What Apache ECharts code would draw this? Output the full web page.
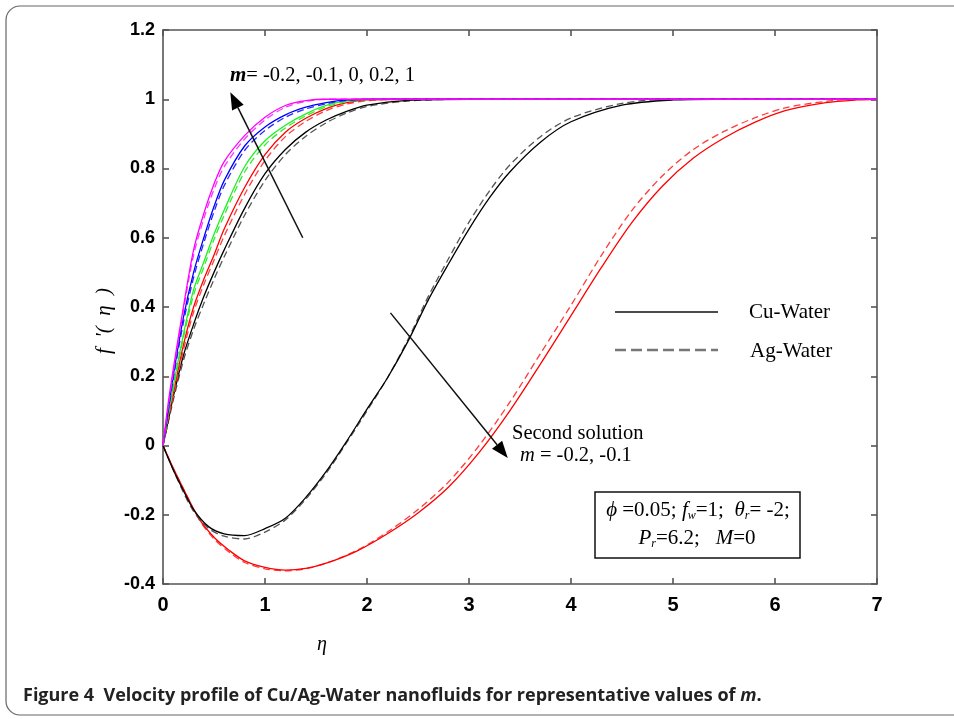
<!DOCTYPE html>
<html>
<head>
<meta charset="utf-8">
<script src="https://cdn.jsdelivr.net/npm/echarts@6/dist/echarts.min.js"></script>
<style>
html,body{margin:0;padding:0;background:#fff;}
#chart{width:954px;height:719px;}
</style>
</head>
<body>
<div id="chart"></div>
<script>
// ---------- data ----------
const xTicks = [0, 1, 2, 3, 4, 5, 6, 7];
const yTicks = [-0.4, -0.2, 0, 0.2, 0.4, 0.6, 0.8, 1, 1.2];

// first solutions (m = -0.2, -0.1, 0, 0.2, 1)
const etaFirst = [0, 0.05, 0.1, 0.2, 0.3, 0.4, 0.5, 0.6, 0.8, 1.0, 1.2, 1.4, 1.6, 1.8, 2.0, 2.4, 3.0, 7];
const m1Cu   = [0, 0.12, 0.22, 0.40, 0.565, 0.67, 0.755, 0.82, 0.895, 0.948, 0.982, 0.996, 1, 1, 1, 1, 1, 1];
const m1Ag   = [0, 0.11, 0.21, 0.39, 0.55, 0.655, 0.74, 0.805, 0.885, 0.94, 0.977, 0.994, 1, 1, 1, 1, 1, 1];
const m02Cu  = [0, 0.10, 0.20, 0.37, 0.50, 0.60, 0.69, 0.765, 0.865, 0.92, 0.955, 0.977, 0.99, 0.998, 1, 1, 1, 1];
const m02Ag  = [0, 0.095, 0.19, 0.355, 0.485, 0.585, 0.675, 0.75, 0.852, 0.91, 0.948, 0.972, 0.987, 0.997, 1, 1, 1, 1];
const m0Cu   = [0, 0.09, 0.17, 0.32, 0.45, 0.53, 0.61, 0.68, 0.805, 0.88, 0.925, 0.958, 0.982, 0.995, 1, 1, 1, 1];
const m0Ag   = [0, 0.085, 0.16, 0.31, 0.435, 0.515, 0.595, 0.665, 0.79, 0.868, 0.917, 0.952, 0.978, 0.993, 0.999, 1, 1, 1];
const mn01Cu = [0, 0.08, 0.15, 0.29, 0.40, 0.48, 0.55, 0.625, 0.745, 0.84, 0.905, 0.945, 0.973, 0.99, 0.998, 1, 1, 1];
const mn01Ag = [0, 0.075, 0.14, 0.275, 0.385, 0.465, 0.535, 0.605, 0.725, 0.823, 0.892, 0.936, 0.967, 0.986, 0.996, 1, 1, 1];
const mn02Cu = [0, 0.07, 0.14, 0.26, 0.35, 0.43, 0.50, 0.565, 0.685, 0.785, 0.855, 0.905, 0.94, 0.965, 0.983, 0.997, 1, 1];
const mn02Ag = [0, 0.065, 0.13, 0.245, 0.335, 0.41, 0.48, 0.545, 0.665, 0.765, 0.84, 0.893, 0.932, 0.96, 0.979, 0.995, 1, 1];

// second solutions (m = -0.2, -0.1)
const etaSecBlack = [0, 0.1, 0.2, 0.3, 0.45, 0.6, 0.8, 1.0, 1.2, 1.4, 1.6, 1.8, 2.0, 2.2, 2.4, 2.6, 2.8, 3.0, 3.2, 3.4, 3.7, 4.0, 4.5, 5.0, 5.4, 7];
const secBlackCu = [0, -0.07, -0.13, -0.185, -0.235, -0.255, -0.26, -0.24, -0.21, -0.15, -0.075, 0.012, 0.105, 0.195, 0.30, 0.42, 0.525, 0.625, 0.715, 0.79, 0.876, 0.935, 0.983, 0.998, 1, 1];
const secBlackAg = [0, -0.07, -0.135, -0.19, -0.24, -0.262, -0.27, -0.25, -0.215, -0.155, -0.08, 0.008, 0.10, 0.195, 0.305, 0.43, 0.54, 0.645, 0.735, 0.81, 0.892, 0.946, 0.988, 1, 1, 1];
const etaSecRed = [0, 0.1, 0.2, 0.35, 0.5, 0.65, 0.8, 1.0, 1.2, 1.4, 1.6, 1.9, 2.2, 2.5, 2.8, 3.1, 3.4, 3.7, 4.0, 4.3, 4.6, 4.9, 5.2, 5.5, 5.8, 6.1, 6.5, 6.8, 7];
const secRedCu = [0, -0.065, -0.125, -0.21, -0.265, -0.303, -0.333, -0.352, -0.36, -0.355, -0.34, -0.305, -0.255, -0.195, -0.12, -0.02, 0.10, 0.235, 0.375, 0.515, 0.645, 0.75, 0.83, 0.888, 0.933, 0.967, 0.99, 0.998, 1];
const secRedAg = [0, -0.065, -0.125, -0.212, -0.27, -0.308, -0.338, -0.356, -0.362, -0.356, -0.34, -0.303, -0.25, -0.185, -0.105, 0.0, 0.125, 0.265, 0.405, 0.55, 0.68, 0.78, 0.855, 0.907, 0.946, 0.975, 0.994, 1, 1];

// annotation arrows in data coordinates [tail, tip]
const arrowFirst  = [[1.37, 0.60], [0.66, 1.02]];
const arrowSecond = [[2.23, 0.383], [3.38, -0.036]];

// ---------- chart ----------
const chart = echarts.init(document.getElementById('chart'));
const zip = (xs, ys) => xs.map((x, i) => [x, ys[i]]);

function line(name, xs, ys, color, dashed, z) {
  return {
    name, type: 'line', data: zip(xs, ys), showSymbol: false, smooth: 0.3,
    xAxisIndex: 0, yAxisIndex: 0, z: z, silent: true,
    lineStyle: { color, width: 1.3, type: dashed ? [7, 4] : 'solid' }
  };
}

const axisLine = { show: true, onZero: false, lineStyle: { color: '#555', width: 1.6 } };
const tickInside = { show: true, inside: true, length: 6, lineStyle: { color: '#555', width: 1.6 } };
const gridCfg = { left: 163, right: 77, top: 30, bottom: 135 };

const option = {
  animation: false,
  backgroundColor: '#fff',
  grid: gridCfg,
  xAxis: [
    { type: 'value', min: 0, max: 7, interval: 1, position: 'bottom',
      axisLine, axisTick: tickInside, splitLine: { show: false },
      axisLabel: { margin: 11, color: '#000', fontFamily: 'Liberation Sans', fontWeight: 'bold', fontSize: 20,
        formatter: v => xTicks.includes(v) ? String(v) : '' } },
    { type: 'value', min: 0, max: 7, interval: 1, position: 'top',
      axisLine, axisTick: tickInside, splitLine: { show: false }, axisLabel: { show: false } }
  ],
  yAxis: [
    { type: 'value', min: -0.4, max: 1.2, interval: 0.2, position: 'left',
      axisLine, axisTick: tickInside, splitLine: { show: false },
      axisLabel: { margin: 8, color: '#000', fontFamily: 'Liberation Sans', fontWeight: 'bold', fontSize: 18,
        formatter: v => { const r = Math.round(v * 10) / 10; return yTicks.includes(r) ? String(r) : ''; } } },
    { type: 'value', min: -0.4, max: 1.2, interval: 0.2, position: 'right',
      axisLine, axisTick: tickInside, splitLine: { show: false }, axisLabel: { show: false } }
  ],
  series: [
    line('sec m=-0.1 Ag', etaSecRed, secRedAg, '#ff3b3b', true, 2),
    line('sec m=-0.1 Cu', etaSecRed, secRedCu, '#ff0000', false, 2),
    line('sec m=-0.2 Ag', etaSecBlack, secBlackAg, '#555555', true, 2),
    line('sec m=-0.2 Cu', etaSecBlack, secBlackCu, '#000000', false, 2),
    line('m=-0.2 Ag', etaFirst, mn02Ag, '#555555', true, 3),
    line('m=-0.2 Cu', etaFirst, mn02Cu, '#000000', false, 3),
    line('m=-0.1 Ag', etaFirst, mn01Ag, '#ff4040', true, 3),
    line('m=-0.1 Cu', etaFirst, mn01Cu, '#ff0000', false, 3),
    line('m=0 Ag', etaFirst, m0Ag, '#33ee33', true, 3),
    line('m=0 Cu', etaFirst, m0Cu, '#22ee22', false, 3),
    line('m=0.2 Ag', etaFirst, m02Ag, '#2a2aff', true, 3),
    line('m=0.2 Cu', etaFirst, m02Cu, '#0000ff', false, 3),
    line('m=1 Ag', etaFirst, m1Ag, '#ff33ff', true, 4),
    line('m=1 Cu', etaFirst, m1Cu, '#ff00ff', false, 4)
  ]
};
chart.setOption(option);

function arrow(pair) {
  const a = chart.convertToPixel({ gridIndex: 0 }, pair[0]);
  const b = chart.convertToPixel({ gridIndex: 0 }, pair[1]);
  const dx = b[0] - a[0], dy = b[1] - a[1];
  const L = Math.hypot(dx, dy), ux = dx / L, uy = dy / L;
  const hl = 17, hw = 6.5;
  const bx = b[0] - ux * hl, by = b[1] - uy * hl;
  return [
    { type: 'line', z: 10, shape: { x1: a[0], y1: a[1], x2: bx, y2: by }, style: { stroke: '#111', lineWidth: 1.5 } },
    { type: 'polygon', z: 10, shape: { points: [[b[0], b[1]], [bx - uy * hw, by + ux * hw], [bx + uy * hw, by - ux * hw]] }, style: { fill: '#000' } }
  ];
}

const serif = 'Liberation Serif';
const fs = 20.5;
const boxRich = {
  i: { fontStyle: 'italic', fontSize: 21, fontFamily: serif, fill: '#000', lineHeight: 24 },
  s: { fontStyle: 'italic', fontSize: 12, fontFamily: serif, fill: '#000', verticalAlign: 'bottom', lineHeight: 24 }
};
const graphics = [
  { type: 'rect', z: 0, shape: { x: 6, y: 6, width: 1000, height: 709, r: 14 }, style: { fill: 'none', stroke: '#666', lineWidth: 1.2 } },
  // caption
  { type: 'text', z: 10, x: 23, y: 696, style: { text: 'Figure 4  Velocity profile of Cu/Ag-Water nanofluids for representative values of {it|m}.',
      font: 'bold 18px "Open Sans"', fill: '#222', verticalAlign: 'middle',
      rich: { it: { fontStyle: 'italic', fontWeight: 'bold', fontSize: 18, fontFamily: 'Open Sans', fill: '#222' } } } },
  // axis names
  { type: 'text', z: 10, x: 322, y: 645, style: { text: 'η', font: 'italic 20px ' + serif, fill: '#000', align: 'center', verticalAlign: 'middle' } },
  { type: 'text', z: 10, x: 104, y: 321, rotation: Math.PI / 2, style: { text: "f  '(  η  )", font: 'italic 21px ' + serif, fill: '#000', align: 'center', verticalAlign: 'middle' } },
  // m annotation
  { type: 'text', z: 10, x: 230, y: 76, style: { text: '{b|m}= -0.2, -0.1, 0, 0.2, 1', font: fs + 'px ' + serif, fill: '#000', verticalAlign: 'middle',
      rich: { b: { fontStyle: 'italic', fontWeight: 'bold', fontSize: 21, fontFamily: serif, fill: '#000' } } } },
  { type: 'text', z: 10, x: 512, y: 434, style: { text: 'Second solution', font: fs + 'px ' + serif, fill: '#000', verticalAlign: 'middle' } },
  { type: 'text', z: 10, x: 520, y: 456, style: { text: '{i|m} = -0.2, -0.1', font: fs + 'px ' + serif, fill: '#000', verticalAlign: 'middle',
      rich: { i: { fontStyle: 'italic', fontSize: fs, fontFamily: serif, fill: '#000' } } } },
  // legend
  { type: 'line', z: 10, shape: { x1: 615, y1: 312, x2: 718, y2: 312 }, style: { stroke: '#111', lineWidth: 1.6 } },
  { type: 'line', z: 10, shape: { x1: 615, y1: 350, x2: 718, y2: 350 }, style: { stroke: '#777', lineWidth: 2.6, lineDash: [11, 5] } },
  { type: 'text', z: 10, x: 749, y: 312, style: { text: 'Cu-Water', font: '21px ' + serif, fill: '#000', verticalAlign: 'middle' } },
  { type: 'text', z: 10, x: 750, y: 351, style: { text: 'Ag-Water', font: '21px ' + serif, fill: '#000', verticalAlign: 'middle' } },
  // parameter box
  { type: 'rect', z: 10, shape: { x: 595, y: 492, width: 205, height: 66 }, style: { fill: '#fff', stroke: '#111', lineWidth: 1.5 } },
  { type: 'text', z: 11, x: 698, y: 510, style: { text: '{i|ϕ} =0.05; {i|f}{s|w}=1;  {i|θ}{s|r}= -2;', font: '21px ' + serif, fill: '#000', align: 'center', verticalAlign: 'middle', rich: boxRich } },
  { type: 'text', z: 11, x: 697, y: 538, style: { text: '{i|P}{s|r}=6.2;   {i|M}=0', font: '21px ' + serif, fill: '#000', align: 'center', verticalAlign: 'middle', rich: boxRich } }
].concat(arrow(arrowFirst), arrow(arrowSecond));

chart.setOption({ graphic: graphics });
</script>
</body>
</html>
